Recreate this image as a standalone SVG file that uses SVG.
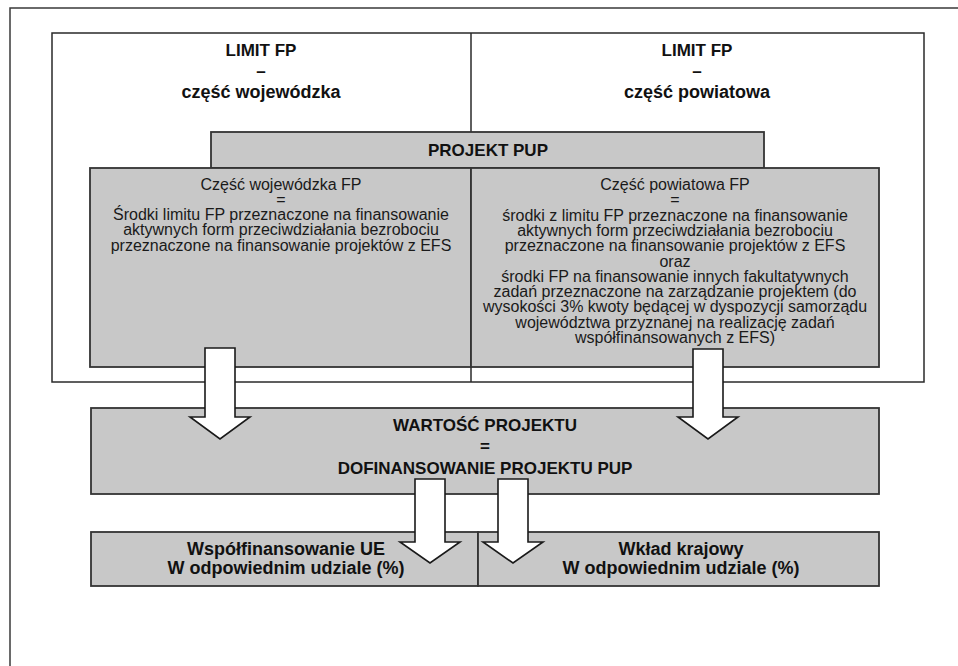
<svg xmlns="http://www.w3.org/2000/svg" width="958" height="666" viewBox="0 0 958 666">
<style>
.frame{fill:none;stroke:#3a3a3a;stroke-width:1.5}
.box{fill:#ffffff;stroke:#2a2a2a;stroke-width:1.5}
.gray{fill:#c8c8c8;stroke:#333333;stroke-width:1.8}
.arrow{fill:#ffffff;stroke:#1a1a1a;stroke-width:1.6;stroke-linejoin:miter}
.line{stroke:#2a2a2a;stroke-width:1.5}
.b{font-family:"Liberation Sans",Arial,sans-serif;font-weight:bold;font-size:17px;fill:#111;text-anchor:middle}
.bb{font-family:"Liberation Sans",Arial,sans-serif;font-weight:bold;font-size:18px;fill:#111;text-anchor:middle}
.r{font-family:"Liberation Sans",Arial,sans-serif;font-size:16px;fill:#1a1a1a;text-anchor:middle}
</style>
<rect x="0" y="0" width="958" height="666" fill="#ffffff"/>
<path class="frame" d="M10,666 V8 H958"/>
<g id="limit">
<rect class="box" x="52" y="33" width="872" height="349"/>
<line class="line" x1="471" y1="33" x2="471" y2="382"/>
<text class="b" x="261" y="56"><tspan x="261" y="56">LIMIT FP</tspan><tspan x="261" y="77">–</tspan><tspan x="261" y="98" font-size="18">część wojewódzka</tspan></text>
<text class="b" x="697" y="56"><tspan x="697" y="56">LIMIT FP</tspan><tspan x="697" y="77">–</tspan><tspan x="697" y="98" font-size="18">część powiatowa</tspan></text>
</g>
<g id="projekt-pup">
<rect class="gray" x="211" y="132" width="553" height="36"/>
<text class="b" x="488" y="156">PROJEKT PUP</text>
</g>
<g id="czesc-wojewodzka">
<rect class="gray" x="90" y="168" width="381" height="199"/>
<text class="r" x="281" y="189.5"><tspan x="281" y="189.5">Część wojewódzka FP</tspan><tspan x="281" y="204.8">=</tspan><tspan x="281" y="220.1">Środki limitu FP przeznaczone na finansowanie</tspan><tspan x="281" y="235.4">aktywnych form przeciwdziałania bezrobociu</tspan><tspan x="281" y="250.7">przeznaczone na finansowanie projektów z EFS</tspan></text>
</g>
<g id="czesc-powiatowa">
<rect class="gray" x="471" y="168" width="408" height="199"/>
<text class="r" x="675" y="190"><tspan x="675" y="190">Część powiatowa FP</tspan><tspan x="675" y="205.3">=</tspan><tspan x="675" y="220.6">środki z limitu FP przeznaczone na finansowanie</tspan><tspan x="675" y="235.9">aktywnych form przeciwdziałania bezrobociu</tspan><tspan x="675" y="251.2">przeznaczone na finansowanie projektów z EFS</tspan><tspan x="675" y="266.5">oraz</tspan><tspan x="675" y="281.8">środki FP na finansowanie innych fakultatywnych</tspan><tspan x="675" y="297.1">zadań przeznaczone na zarządzanie projektem (do</tspan><tspan x="675" y="312.4">wysokości 3% kwoty będącej w dyspozycji samorządu</tspan><tspan x="675" y="327.7">województwa przyznanej na realizację zadań</tspan><tspan x="675" y="343">współfinansowanych z EFS)</tspan></text>
</g>
<g id="wartosc-projektu">
<rect class="gray" x="91" y="408" width="788" height="86"/>
<text class="b" x="485" y="431"><tspan x="485" y="431">WARTOŚĆ PROJEKTU</tspan><tspan x="485" y="452">=</tspan><tspan x="485" y="474">DOFINANSOWANIE PROJEKTU PUP</tspan></text>
</g>
<g id="wspolfinansowanie-ue">
<rect class="gray" x="91" y="532" width="387" height="54"/>
<text class="bb" x="286" y="555"><tspan x="286" y="555">Współfinansowanie UE</tspan><tspan x="286" y="574">W odpowiednim udziale (%)</tspan></text>
</g>
<g id="wklad-krajowy">
<rect class="gray" x="478" y="532" width="401" height="54"/>
<text class="bb" x="681" y="555"><tspan x="681" y="555">Wkład krajowy</tspan><tspan x="681" y="574">W odpowiednim udziale (%)</tspan></text>
</g>
<g id="connectors">
<polygon class="arrow" points="205,348 235,348 235,417 250,417 220,439 190,417 205,417"/>
<polygon class="arrow" points="693,349 723,349 723,417 738,417 708,439 678,417 693,417"/>
<polygon class="arrow" points="415,479 445,479 445,542 460,542 430,563 400,542 415,542"/>
<polygon class="arrow" points="498,479 528,479 528,542 543,542 513,563 483,542 498,542"/>
</g>
</svg>
